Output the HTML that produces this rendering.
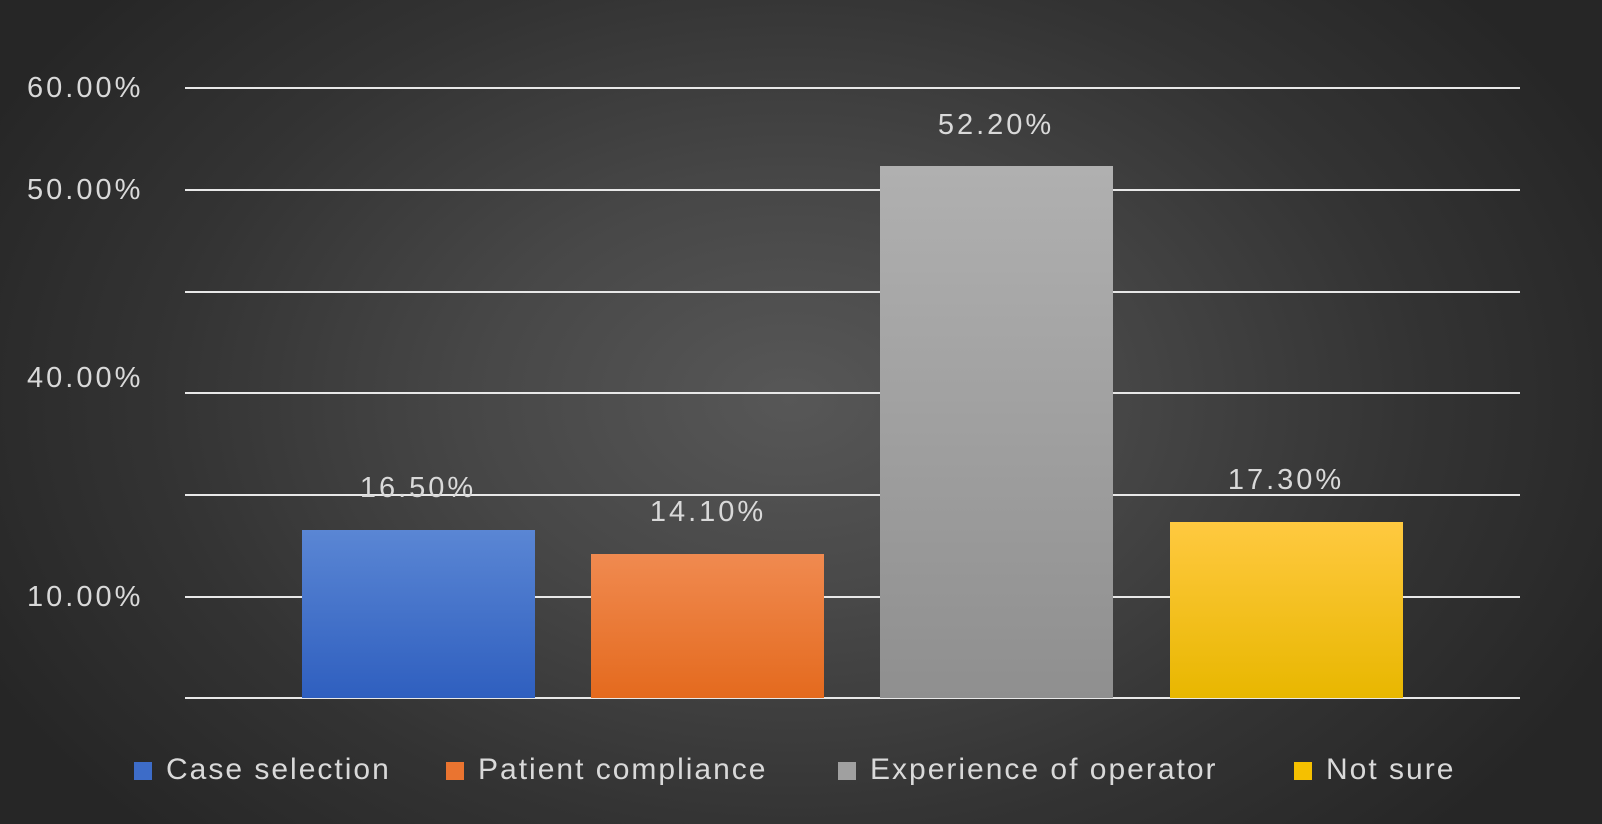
<!DOCTYPE html>
<html><head><style>
body{margin:0}
#c{position:relative;width:1602px;height:824px;overflow:hidden;
background:radial-gradient(ellipse 900px 620px at 790px 400px,#575757 0%,#474747 35%,#333 70%,#262626 100%);
font-family:"Liberation Sans",sans-serif;color:#d9d9d9}
.g{position:absolute;left:185px;width:1335px;height:2px;background:#e8e8e8}
.y{position:absolute;left:27px;font-size:29px;line-height:1;letter-spacing:3px}
.b{position:absolute;width:233px;bottom:126px}
.l{position:absolute;font-size:29px;line-height:1;transform:translateX(-50%);letter-spacing:3px}
.lg{position:absolute;top:755px;font-size:30px;line-height:1;letter-spacing:2px}
.sq{position:absolute;top:762px;width:18px;height:18px}
</style></head><body><div id="c">
<div class="g" style="top:87px"></div>
<div class="g" style="top:189px"></div>
<div class="g" style="top:291px"></div>
<div class="g" style="top:392px"></div>
<div class="g" style="top:494px"></div>
<div class="g" style="top:596px"></div>
<div class="g" style="top:697px"></div>
<div class="y" style="top:74px">60.00%</div>
<div class="y" style="top:176px">50.00%</div>
<div class="y" style="top:364px">40.00%</div>
<div class="y" style="top:583px">10.00%</div>
<div class="b" style="left:302px;top:530px;background:linear-gradient(#5a86d4,#2f5fbf)"></div>
<div class="b" style="left:591px;top:554px;background:linear-gradient(#f08a50,#e46a1e)"></div>
<div class="b" style="left:880px;top:166px;background:linear-gradient(#b0b0b0,#8f8f8f)"></div>
<div class="b" style="left:1170px;top:522px;background:linear-gradient(#ffc940,#e8b700)"></div>
<div class="l" style="left:418px;top:474px">16.50%</div>
<div class="l" style="left:708px;top:498px">14.10%</div>
<div class="l" style="left:996px;top:111px">52.20%</div>
<div class="l" style="left:1286px;top:466px">17.30%</div>
<div class="sq" style="left:134px;background:#3d6cc8"></div>
<div class="lg" style="left:166px">Case selection</div>
<div class="sq" style="left:446px;background:#ea7430"></div>
<div class="lg" style="left:478px">Patient compliance</div>
<div class="sq" style="left:838px;background:#a0a0a0"></div>
<div class="lg" style="left:870px">Experience of operator</div>
<div class="sq" style="left:1294px;background:#f5c000"></div>
<div class="lg" style="left:1326px">Not sure</div>
</div></body></html>
